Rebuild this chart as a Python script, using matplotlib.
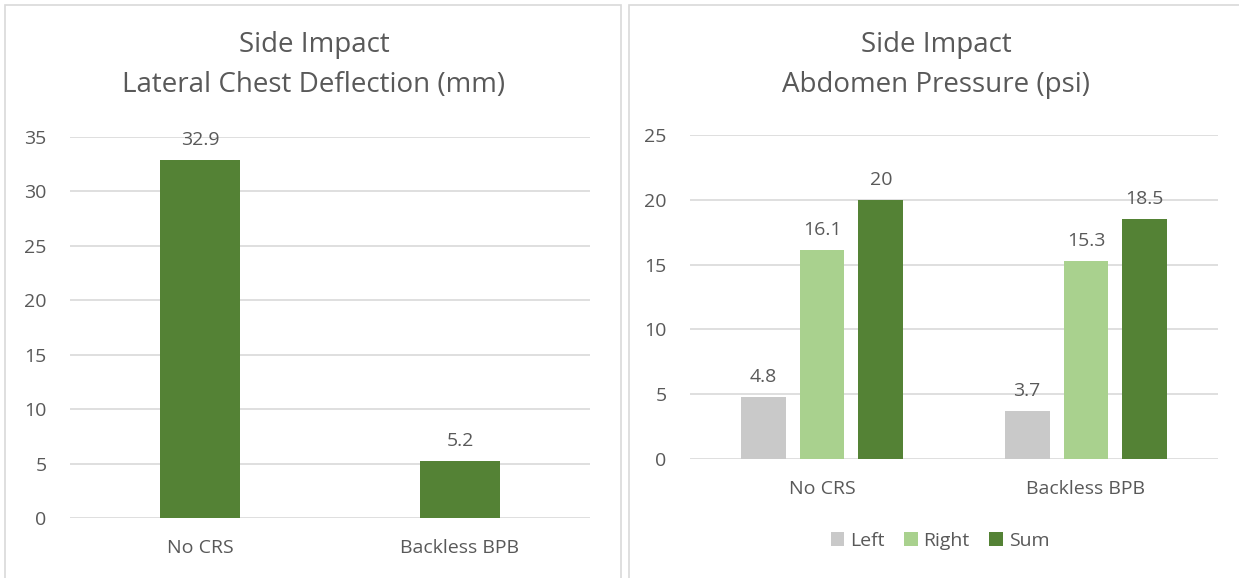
import matplotlib.pyplot as plt
from matplotlib.patches import Rectangle

plt.rcParams['font.family'] = ['Open Sans', 'DejaVu Sans']

# chest deflection data
chest_cats = ["No CRS", "Backless BPB"]
chest_vals = [32.9, 5.2]

# abdomen pressure data
abd_cats = ["No CRS", "Backless BPB"]
abd_left = [4.8, 3.7]
abd_right = [16.1, 15.3]
abd_sum = [20, 18.5]
abd_series = ["Left", "Right", "Sum"]

dark_green = "#548235"
light_green = "#a9d18e"
grey = "#c9c9c9"
txt = "#595959"
grid_c = "#d9d9d9"

W, H = 1239, 578
fig = plt.figure(figsize=(W / 100, H / 100), dpi=100)


def px_axes(x0, x1, ytop, ybot):
    return fig.add_axes([x0 / W, 1 - ybot / H, (x1 - x0) / W, (ybot - ytop) / H])


def style(ax, ymax, step):
    ax.set_ylim(0, ymax)
    ax.set_yticks(range(0, ymax + 1, step))
    ax.set_xlim(-0.5, 1.5)
    for s in ax.spines.values():
        s.set_visible(False)
    ax.yaxis.grid(True, color=grid_c, linewidth=1.2)
    ax.set_axisbelow(True)
    ax.tick_params(length=0, colors=txt, labelsize=14)
    ax.tick_params(axis='y', pad=17)
    ax.tick_params(axis='x', pad=15)
    ax.patch.set_alpha(0)


# panel borders
fig.patches.append(Rectangle((5 / W, -0.1), 616 / W, 1.1 - 5 / H, transform=fig.transFigure,
                             fill=False, edgecolor=grid_c, linewidth=1.2))
fig.patches.append(Rectangle((629 / W, -0.1), 700 / W, 1.1 - 5 / H, transform=fig.transFigure,
                             fill=False, edgecolor=grid_c, linewidth=1.2))

# left chart
ax1 = px_axes(70, 590, 137, 518)
x = range(len(chest_cats))
bars = ax1.bar(x, chest_vals, width=0.31, color=dark_green)
style(ax1, 35, 5)
ax1.set_xticks(list(x))
ax1.set_xticklabels(chest_cats)
for b, v in zip(bars, chest_vals):
    ax1.annotate(f"{v}", (b.get_x() + b.get_width() / 2, v), xytext=(0, 8),
                 textcoords="offset points", ha='center', va='bottom', color=txt, fontsize=14)
fig.text(314 / W, 1 - 45 / H, "Side Impact", ha='center', va='center', fontsize=20, color=txt)
fig.text(314 / W, 1 - 85 / H, "Lateral Chest Deflection (mm)", ha='center', va='center',
         fontsize=20, color=txt)

# right chart
ax2 = px_axes(690, 1218, 135, 459)
w = 0.17
off = 0.223
x2 = list(range(len(abd_cats)))
for i, (vals, col, name) in enumerate(zip([abd_left, abd_right, abd_sum],
                                          [grey, light_green, dark_green], abd_series)):
    pos = [p + (i - 1) * off for p in x2]
    bs = ax2.bar(pos, vals, width=w, color=col, label=name)
    for b, v in zip(bs, vals):
        ax2.annotate(f"{v}", (b.get_x() + b.get_width() / 2, v), xytext=(0, 8),
                     textcoords="offset points", ha='center', va='bottom', color=txt, fontsize=14)
style(ax2, 25, 5)
ax2.set_xticks(x2)
ax2.set_xticklabels(abd_cats)
fig.text(936 / W, 1 - 45 / H, "Side Impact", ha='center', va='center', fontsize=20, color=txt)
fig.text(936 / W, 1 - 85 / H, "Abdomen Pressure (psi)", ha='center', va='center',
         fontsize=20, color=txt)

h, l = ax2.get_legend_handles_labels()
fig.legend(h, l, loc='center', bbox_to_anchor=(940 / W, 1 - 541 / H), ncol=3, frameon=False,
           handlelength=0.7, handleheight=0.7, handletextpad=0.3, columnspacing=1.0,
           fontsize=14, labelcolor=txt)

fig.savefig("out.png", dpi=100)
